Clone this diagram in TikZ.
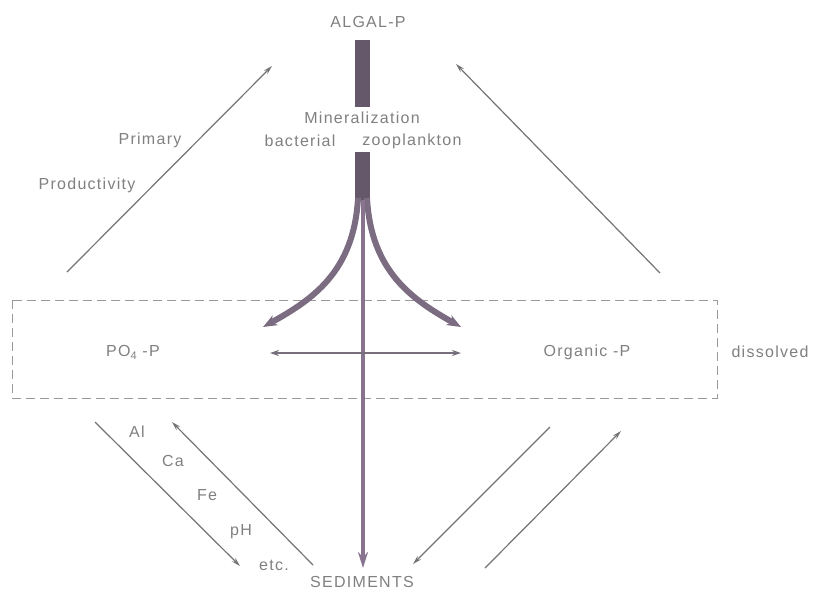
\documentclass[tikz,border=0pt]{standalone}
\usepackage{fontspec}
\setmainfont{Liberation Sans}
\newfontfamily\lblfont[LetterSpace=8]{Liberation Sans}
\usetikzlibrary{arrows.meta}
\definecolor{barcol}{RGB}{100,88,106}
\definecolor{curvecol}{RGB}{124,108,130}
\definecolor{stemcol}{RGB}{136,116,142}
\definecolor{hcol}{RGB}{118,110,122}
\begin{document}
\begin{tikzpicture}[x=1pt,y=-1pt,
  lbl/.style={text=black!50, font=\lblfont\fontsize{16}{18}\selectfont, inner sep=0pt},
  diag/.style={draw=black!55, line width=1.2pt, -{Stealth[length=9pt,width=5pt]}},
  curvearrow/.style={draw=curvecol, line width=6pt, -{Stealth[length=14pt,width=11pt]}}]
\useasboundingbox (0,0) rectangle (813,595);
% labels
\node[lbl] (algal) at (368,22) {ALGAL-P};
\node[lbl] (miner) at (362,118) {Mineralization};
\node[lbl] (bact) at (300,141) {bacterial};
\node[lbl] (zoo) at (412,141) {zooplankton};
\node[lbl] (po4) at (133,352) {PO\raisebox{-0.35ex}{\fontsize{11}{12}\selectfont 4} -P};
\node[lbl] (org) at (587,352) {Organic -P};
\node[lbl] (diss) at (770,352) {dissolved};
\node[lbl] (prim) at (150,140) {Primary};
\node[lbl] (prod) at (87,185) {Productivity};
\node[lbl] (al) at (137,432) {Al};
\node[lbl] (ca) at (173,461) {Ca};
\node[lbl] (fe) at (207,495) {Fe};
\node[lbl] (ph) at (241,532) {pH};
\node[lbl] (etc) at (274,565) {etc.};
\node[lbl] (sed) at (362,582) {SEDIMENTS};
% coordinates
\coordinate (bar1t) at (362.5,40);
\coordinate (bar1b) at (362.5,107);
\coordinate (bar2t) at (362.5,152);
\coordinate (bar2b) at (362.5,202);
\coordinate (cl0) at (358,198);
\coordinate (cl1) at (263,327);
\coordinate (cr0) at (367,198);
\coordinate (cr1) at (461,327);
\coordinate (st0) at (363,200);
\coordinate (st1) at (363,568);
\coordinate (hl) at (270,353);
\coordinate (hr) at (461,353);
\coordinate (pp0) at (67,272);
\coordinate (pp1) at (272,66);
\coordinate (rr0) at (660,273);
\coordinate (rr1) at (456,64);
\coordinate (a0) at (95,422);
\coordinate (a1) at (240,566);
\coordinate (b0) at (313,565);
\coordinate (b1) at (172,422);
\coordinate (c0) at (550,427);
\coordinate (c1) at (413,564);
\coordinate (d0) at (485,568);
\coordinate (d1) at (621,431);
% dashed box
\draw[black!40, line width=1pt, dash pattern=on 9pt off 5pt] (12,300) rectangle (717,398);
% bars
\draw[barcol, line width=15pt] (bar1t) -- (bar1b);
\draw[barcol, line width=15pt] (bar2t) -- (bar2b);
% curves
\draw[curvearrow] (cl0) .. controls (354,272) and (312,300) .. (cl1);
\draw[curvearrow] (cr0) .. controls (371,272) and (413,300) .. (cr1);
% stem
\draw[stemcol, line width=4.5pt, -{Stealth[length=16pt,width=10pt]}] (st0) -- (st1);
% horizontal
\draw[hcol, line width=1.5pt, {Stealth[length=9pt,width=6pt]}-{Stealth[length=9pt,width=6pt]}] (hl) -- (hr);
% diagonals
\draw[diag] (pp0) -- (pp1);
\draw[diag] (rr0) -- (rr1);
\draw[diag] (a0) -- (a1);
\draw[diag] (b0) -- (b1);
\draw[diag] (c0) -- (c1);
\draw[diag] (d0) -- (d1);
\end{tikzpicture}
\end{document}
